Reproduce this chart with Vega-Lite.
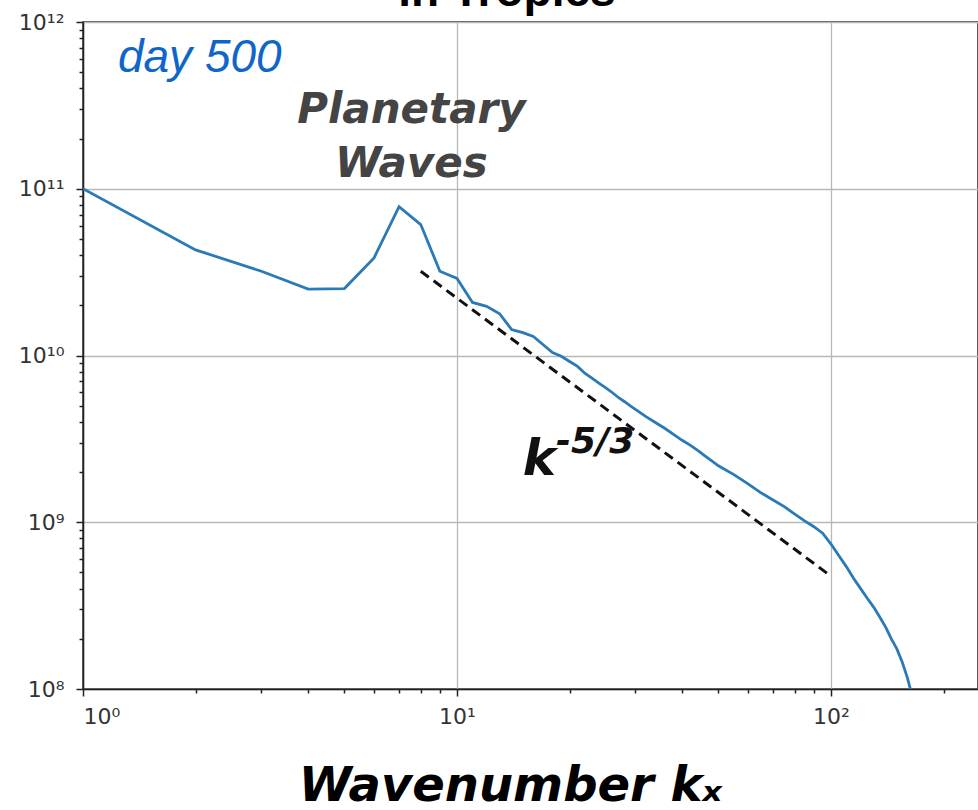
{
  "$schema": "https://vega.github.io/schema/vega-lite/v6.json",
  "autosize": "none",
  "width": 895,
  "height": 667,
  "padding": {"left": 83, "top": 22, "right": 0, "bottom": 121},
  "background": "white",
  "config": {
    "view": {"stroke": "#222", "strokeWidth": 1.5},
    "axis": {"domainColor": "#222", "domainWidth": 1.5, "tickColor": "#222", "tickWidth": 1.5, "labelColor": "#333", "labelFont": "DejaVu Sans", "labelFontSize": 22, "gridColor": "#b8b8b8", "gridWidth": 1.3}
  },
  "datasets": {
    "spectrum": [
      {"k": 1, "E": 1.0e11}, {"k": 2, "E": 4.3e10}, {"k": 3, "E": 3.2e10}, {"k": 4, "E": 2.5e10},
      {"k": 5, "E": 2.52e10}, {"k": 6, "E": 3.85e10}, {"k": 7, "E": 7.8e10}, {"k": 8, "E": 6.1e10},
      {"k": 9, "E": 3.2e10}, {"k": 10, "E": 2.9e10}, {"k": 11, "E": 2.08e10}, {"k": 12, "E": 1.97e10},
      {"k": 13, "E": 1.78e10}, {"k": 14, "E": 1.43e10}, {"k": 15, "E": 1.37e10}, {"k": 16, "E": 1.3e10},
      {"k": 17, "E": 1.16e10}, {"k": 18, "E": 1.04e10}, {"k": 19, "E": 9.9e9}, {"k": 20, "E": 9.2e9},
      {"k": 21, "E": 8.6e9}, {"k": 22, "E": 7.8e9}, {"k": 23, "E": 7.3e9}, {"k": 24, "E": 6.8e9},
      {"k": 25, "E": 6.4e9}, {"k": 26, "E": 6.0e9}, {"k": 27, "E": 5.6e9}, {"k": 28, "E": 5.3e9},
      {"k": 29, "E": 5.0e9}, {"k": 30, "E": 4.75e9}, {"k": 32, "E": 4.3e9}, {"k": 34, "E": 3.95e9},
      {"k": 36, "E": 3.65e9}, {"k": 38, "E": 3.35e9}, {"k": 40, "E": 3.1e9}, {"k": 42, "E": 2.9e9},
      {"k": 44, "E": 2.7e9}, {"k": 46, "E": 2.5e9}, {"k": 48, "E": 2.33e9}, {"k": 50, "E": 2.18e9},
      {"k": 55, "E": 1.93e9}, {"k": 60, "E": 1.7e9}, {"k": 65, "E": 1.5e9}, {"k": 70, "E": 1.36e9},
      {"k": 75, "E": 1.24e9}, {"k": 80, "E": 1.12e9}, {"k": 85, "E": 1.02e9}, {"k": 90, "E": 9.4e8},
      {"k": 95, "E": 8.6e8}, {"k": 100, "E": 7.4e8}, {"k": 105, "E": 6.3e8}, {"k": 110, "E": 5.4e8},
      {"k": 115, "E": 4.6e8}, {"k": 120, "E": 4.0e8}, {"k": 125, "E": 3.5e8}, {"k": 130, "E": 3.1e8},
      {"k": 135, "E": 2.7e8}, {"k": 140, "E": 2.35e8}, {"k": 145, "E": 2.0e8}, {"k": 150, "E": 1.74e8},
      {"k": 155, "E": 1.45e8}, {"k": 160, "E": 1.17e8}, {"k": 163, "E": 1.0e8}
    ],
    "slope": [{"k": 8, "E": 3.2e10}, {"k": 100, "E": 4.75e8}],
    "heading": [{"k": 13.6, "E": 1.25e12, "label": "in Tropics"}],
    "day": [{"k": 1.24, "E": 5.0e11, "label": "day 500"}],
    "planetary": [{"k": 7.55, "E": 2.48e11, "label": "Planetary"}, {"k": 7.55, "E": 1.175e11, "label": "Waves"}],
    "kbase": [{"k": 15.0, "E": 1.92e9, "label": "k"}],
    "kexp": [{"k": 18.4, "E": 2.6e9, "label": "-5/3"}]
  },
  "layer": [
    {
      "data": {"name": "spectrum"},
      "mark": {"type": "line", "color": "#2a7ab8", "strokeWidth": 2.8, "clip": true},
      "encoding": {
        "x": {"field": "k", "type": "quantitative", "scale": {"type": "log", "domain": [1, 247.2], "nice": false},
          "axis": {"orient": "bottom", "values": [1,2,3,4,5,6,7,8,9,10,20,30,40,50,60,70,80,90,100,200],
            "tickSize": {"condition": {"test": "indexof([1,10,100], datum.value) >= 0", "value": 7}, "value": 4},
            "gridOpacity": {"condition": {"test": "indexof([1,10,100], datum.value) >= 0", "value": 1}, "value": 0},
            "labelPadding": 10, "grid": true, "labelOverlap": false,
            "labelExpr": "datum.value == 1 ? '10⁰' : datum.value == 10 ? '10¹' : datum.value == 100 ? '10²' : ''",
            "title": "Wavenumber kₓ", "titleFont": "DejaVu Sans", "titleFontSize": 48, "titleFontWeight": "bold", "titleFontStyle": "italic", "titleColor": "#000",
            "titleX": 427, "titleY": 111, "titleAlign": "center", "titleBaseline": "alphabetic", "titleAnchor": "start"}},
        "y": {"field": "E", "type": "quantitative", "scale": {"type": "log", "domain": [1e8, 1e12], "nice": false},
          "axis": {"orient": "left", "values": [1e8,2e8,3e8,4e8,5e8,6e8,7e8,8e8,9e8,1e9,2e9,3e9,4e9,5e9,6e9,7e9,8e9,9e9,1e10,2e10,3e10,4e10,5e10,6e10,7e10,8e10,9e10,1e11,2e11,3e11,4e11,5e11,6e11,7e11,8e11,9e11,1e12],
            "tickSize": {"condition": {"test": "indexof([1e8,1e9,1e10,1e11,1e12], datum.value) >= 0", "value": 7}, "value": 4},
            "gridOpacity": {"condition": {"test": "indexof([1e8,1e9,1e10,1e11,1e12], datum.value) >= 0", "value": 1}, "value": 0},
            "labelPadding": 12, "grid": true, "title": null, "labelOverlap": false,
            "labelExpr": "datum.value == 1e12 ? '10¹²' : datum.value == 1e11 ? '10¹¹' : datum.value == 1e10 ? '10¹⁰' : datum.value == 1e9 ? '10⁹' : datum.value == 1e8 ? '10⁸' : ''"}}
      }
    },
    {
      "data": {"name": "slope"},
      "mark": {"type": "line", "color": "#111", "strokeWidth": 3, "strokeDash": [10, 6], "clip": true},
      "encoding": {
        "x": {"field": "k", "type": "quantitative"},
        "y": {"field": "E", "type": "quantitative"}
      }
    },
    {
      "data": {"name": "heading"},
      "mark": {"type": "text", "font": "Liberation Sans", "fontSize": 46, "fontWeight": "bold", "color": "#000", "align": "center", "baseline": "alphabetic", "clip": false},
      "encoding": {"x": {"field": "k", "type": "quantitative"}, "y": {"field": "E", "type": "quantitative"}, "text": {"field": "label"}}
    },
    {
      "data": {"name": "day"},
      "mark": {"type": "text", "font": "Liberation Sans", "fontSize": 46, "fontStyle": "italic", "color": "#0f66c8", "align": "left", "baseline": "alphabetic"},
      "encoding": {"x": {"field": "k", "type": "quantitative"}, "y": {"field": "E", "type": "quantitative"}, "text": {"field": "label"}}
    },
    {
      "data": {"name": "planetary"},
      "mark": {"type": "text", "font": "DejaVu Sans", "fontSize": 42, "fontStyle": "italic", "fontWeight": "bold", "color": "#444", "align": "center", "baseline": "alphabetic"},
      "encoding": {"x": {"field": "k", "type": "quantitative"}, "y": {"field": "E", "type": "quantitative"}, "text": {"field": "label"}}
    },
    {
      "data": {"name": "kbase"},
      "mark": {"type": "text", "font": "DejaVu Sans", "fontSize": 50, "fontStyle": "italic", "fontWeight": "bold", "color": "#111", "align": "left", "baseline": "alphabetic"},
      "encoding": {"x": {"field": "k", "type": "quantitative"}, "y": {"field": "E", "type": "quantitative"}, "text": {"field": "label"}}
    },
    {
      "data": {"name": "kexp"},
      "mark": {"type": "text", "font": "DejaVu Sans", "fontSize": 36, "fontStyle": "italic", "fontWeight": "bold", "color": "#111", "align": "left", "baseline": "alphabetic"},
      "encoding": {"x": {"field": "k", "type": "quantitative"}, "y": {"field": "E", "type": "quantitative"}, "text": {"field": "label"}}
    }
  ]
}
